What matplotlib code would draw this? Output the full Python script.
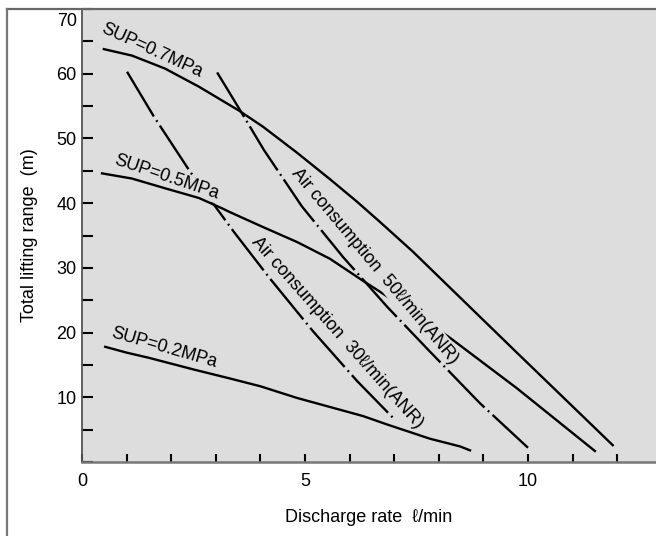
import matplotlib
matplotlib.use("Agg")
import matplotlib.pyplot as plt
from matplotlib.lines import Line2D
from matplotlib.ticker import MultipleLocator, FixedLocator
import matplotlib.transforms as mtransforms

plt.rcParams['font.family'] = ['Liberation Sans', 'DejaVu Sans']
plt.rcParams['lines.scale_dashes'] = False

# Data
x_07 = [0.49, 1.12, 1.86, 2.62, 3.52, 4.06, 4.82, 5.56, 6.17, 6.68, 7.42, 8.48, 9.75, 11.9]
y_07 = [63.8, 62.8, 60.8, 58.0, 54.3, 51.8, 47.8, 43.7, 40.2, 37.1, 32.5, 25.4, 16.9, 2.6]

x_05 = [0.45, 1.12, 1.86, 2.62, 3.14, 3.32, 4.06, 4.82, 5.56, 6.3, 6.64, 8.21, 9.75, 11.5]
y_05 = [44.6, 43.8, 42.3, 40.8, 39.2, 38.6, 36.3, 34.0, 31.4, 28.0, 26.5, 19.4, 11.4, 1.7]

x_02 = [0.52, 1.0, 1.5, 2.5, 3.32, 4.0, 4.82, 5.56, 6.3, 6.84, 7.8, 8.48, 8.7]
y_02 = [17.8, 16.9, 16.1, 14.3, 12.9, 11.7, 9.9, 8.5, 7.1, 5.8, 3.6, 2.4, 1.8]

x_air30 = [1.01, 1.61, 2.42, 2.87, 3.39, 4.22, 5.18, 6.17, 7.02]
y_air30 = [60.3, 53.4, 44.9, 40.6, 35.7, 28.3, 20.2, 12.5, 6.5]

x_air50 = [3.03, 3.48, 4.08, 4.93, 5.85, 6.84, 7.74, 8.92, 10.0]
y_air50 = [60.2, 55.1, 48.2, 39.5, 31.7, 24.0, 17.5, 9.1, 2.2]

x_ticks = [0, 5, 10]
y_ticks = [10, 20, 30, 40, 50, 60, 70]

BG = '#dddddd'

fig = plt.figure(figsize=(6.56, 5.36), dpi=100)
ax = fig.add_axes([82/656, 74/536, 1 - 82/656, (462 - 9)/536])
ax.set_facecolor(BG)
ax.set_xlim(0, 12.87)
ax.set_ylim(0, 70)

lw = 1.7
dashdot = (0, (37.5, 3.3, 1.3, 3.3))
ax.plot(x_07, y_07, color='black', lw=lw, zorder=5)
ax.plot(x_05, y_05, color='black', lw=lw, zorder=4)
ax.plot(x_02, y_02, color='black', lw=lw, zorder=5)
ax.plot(x_air30, y_air30, color='black', lw=lw, ls=dashdot, zorder=3)
ax.plot(x_air50, y_air50, color='black', lw=lw, ls=dashdot, zorder=5)

fs = 13
ax.text(1.57, 63.5, 'SUP=0.7MPa', rotation=-24.5, fontsize=fs, ha='center', va='center',
        rotation_mode='anchor', zorder=6)
ax.text(1.89, 44.0, 'SUP=0.5MPa', rotation=-18.6, fontsize=fs, ha='center', va='center',
        rotation_mode='anchor', zorder=3.5,
        bbox=dict(facecolor=BG, edgecolor='none', pad=0.5))
ax.text(1.83, 17.7, 'SUP=0.2MPa', rotation=-16.1, fontsize=fs, ha='center', va='center',
        rotation_mode='anchor', zorder=6)
ax.text(6.57, 30.2, 'Air consumption  50\u2113/min(ANR)', rotation=-50, fontsize=fs,
        ha='center', va='center', rotation_mode='anchor', zorder=4.5,
        bbox=dict(facecolor=BG, edgecolor='none', pad=1.5))
ax.text(5.73, 20.0, 'Air consumption  30\u2113/min(ANR)', rotation=-48.4, fontsize=fs,
        ha='center', va='center', rotation_mode='anchor', zorder=6)

# ticks
ax.xaxis.set_major_locator(FixedLocator(x_ticks))
ax.xaxis.set_minor_locator(MultipleLocator(1))
ax.yaxis.set_major_locator(FixedLocator(y_ticks))
ax.yaxis.set_minor_locator(MultipleLocator(5))
ax.tick_params(axis='x', which='both', direction='in', length=6, width=1.5,
               pad=8, labelsize=fs, colors='black')
ax.tick_params(axis='y', which='both', direction='in', length=8, width=1.5,
               pad=4, labelsize=fs, colors='black')
ax.set_yticklabels([str(v) if v != 70 else '' for v in y_ticks])
# top label sits just below the frame top (as in the reference)
trans = mtransforms.blended_transform_factory(ax.transAxes, ax.transData) + \
    mtransforms.ScaledTranslation(0, -12/100, fig.dpi_scale_trans)
ax.text(-5/574, y_ticks[-1], str(y_ticks[-1]), transform=trans, ha='right', va='center',
        fontsize=fs, clip_on=False)

for s in ['top', 'right']:
    ax.spines[s].set_visible(False)
ax.spines['left'].set_color('#555555')
ax.spines['left'].set_linewidth(1.3)
ax.spines['bottom'].set_color('#777777')
ax.spines['bottom'].set_linewidth(1.8)

ax.set_xlabel('Discharge rate  \u2113/min', fontsize=fs)
ax.set_ylabel('Total lifting range  (m)', fontsize=fs)
ax.xaxis.set_label_coords(0.5, (462 - 518) / 453)
ax.xaxis.label.set_verticalalignment('center')
ax.yaxis.set_label_coords((30 - 82) / 574, 0.5)
ax.yaxis.label.set_verticalalignment('center')

# figure frame lines (top and left)
fig.add_artist(Line2D([7/656, 1], [1 - 9/536, 1 - 9/536], transform=fig.transFigure,
                      color='#666666', lw=1.6))
fig.add_artist(Line2D([7/656, 7/656], [0, 1 - 9/536], transform=fig.transFigure,
                      color='#777777', lw=1.6))

fig.savefig('out.png', dpi=100)
